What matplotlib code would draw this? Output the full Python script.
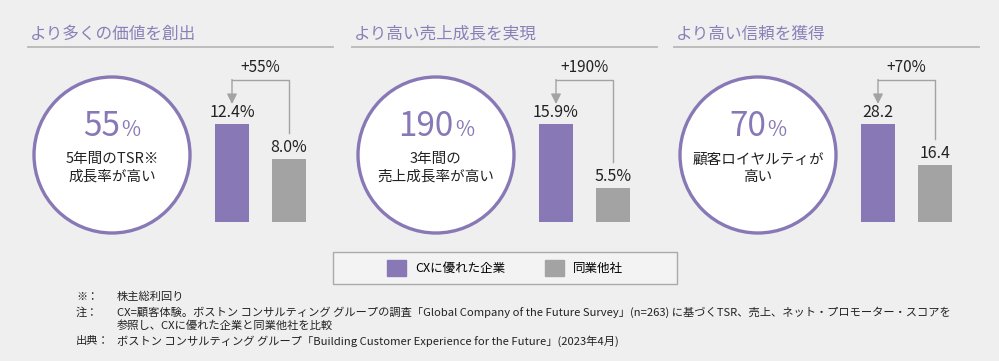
import matplotlib.pyplot as plt
import matplotlib.patches as mpatches
from matplotlib.offsetbox import TextArea, HPacker, AnnotationBbox

plt.rcParams['font.family'] = ['Noto Sans CJK JP', 'DejaVu Sans']

# データ
titles = ['より多くの価値を創出', 'より高い売上成長を実現', 'より高い信頼を獲得']
big_numbers = ['55', '190', '70']
circle_texts = ['5年間のTSR※\n成長率が高い', '3年間の\n売上成長率が高い', '顧客ロイヤルティが\n高い']
cx_values = [12.4, 15.9, 28.2]
peer_values = [8.0, 5.5, 16.4]
value_fmts = ['{:.1f}%', '{:.1f}%', '{:.1f}']
uplift_labels = ['+55%', '+190%', '+70%']
legend_labels = ['CXに優れた企業', '同業他社']
footnotes = [
    ('※：', '株主総利回り'),
    ('注：', 'CX=顧客体験。ボストン コンサルティング グループの調査「Global Company of the Future Survey」(n=263) に基づくTSR、売上、ネット・プロモーター・スコアを'),
    ('', '参照し、CXに優れた企業と同業他社を比較'),
    ('出典：', 'ボストン コンサルティング グループ「Building Customer Experience for the Future」(2023年4月)'),
]

PURPLE = '#8878b6'
GRAY = '#a3a3a3'
TITLE_C = '#8a80b8'
BG = '#efefef'
W, H = 999, 361

fig = plt.figure(figsize=(W / 100, H / 100), dpi=100, facecolor=BG)
ov = fig.add_axes([0, 0, 1, 1])
ov.set_xlim(0, W)
ov.set_ylim(H, 0)
ov.axis('off')

offsets = [0, 324, 646]
for i, off in enumerate(offsets):
    # タイトルと下線
    ov.text(30 + off, 34, titles[i], fontsize=12, color=TITLE_C, va='center', ha='left')
    ov.plot([28 + off, 333 + off], [47, 47], color='#b8b8b8', lw=1.3)

    # 円
    ccx, ccy = 112 + off, 155
    ov.add_patch(mpatches.Circle((ccx, ccy), 78, facecolor='white', edgecolor=PURPLE, lw=2.4))
    box = HPacker(children=[
        TextArea(big_numbers[i], textprops=dict(fontsize=24, color=PURPLE)),
        TextArea('%', textprops=dict(fontsize=15, color=PURPLE)),
    ], align='baseline', pad=0, sep=1)
    ov.add_artist(AnnotationBbox(box, (ccx, 144), xycoords='data', frameon=False,
                                 box_alignment=(0.5, 0)))
    ov.text(ccx, 168, circle_texts[i], fontsize=10.5, color='#222222', ha='center', va='center',
            linespacing=1.3)

    # 棒グラフ
    pc = 232 + off
    ax = fig.add_axes([(pc - 28.5) / W, (H - 222) / H, 114 / W, 98 / H])
    vmax = cx_values[i]
    ax.set_xlim(-0.5, 1.5)
    ax.set_ylim(0, vmax)
    ax.axis('off')
    bars = ax.bar([0, 1], [cx_values[i], peer_values[i]], width=0.6, color=[PURPLE, GRAY])
    ax.bar_label(bars, labels=[value_fmts[i].format(v) for v in (cx_values[i], peer_values[i])],
                 padding=2, fontsize=11.5, color='#222222')
    k = vmax / 98
    top = vmax + 44 * k
    ax.plot([1, 1, 0], [peer_values[i] + 26 * k, top, top], color=GRAY, lw=1, clip_on=False)
    ax.annotate('', xy=(0, vmax + 20 * k), xytext=(0, top + 0.5 * k),
                arrowprops=dict(arrowstyle='-|>,head_width=0.3,head_length=0.6', color=GRAY,
                                lw=1, shrinkA=0, shrinkB=0), annotation_clip=False)
    ax.text(0.5, top + 4 * k, uplift_labels[i], ha='center', va='bottom', fontsize=11,
            color='#222222', clip_on=False)

# 凡例
ov.add_patch(mpatches.Rectangle((333, 252), 344, 32, facecolor='#f3f3f3', edgecolor='#aaaaaa', lw=1))
fig.legend(handles=[mpatches.Patch(color=PURPLE), mpatches.Patch(color=GRAY)], labels=legend_labels,
           loc='center', bbox_to_anchor=(505 / W, 1 - 268 / H), ncol=2, frameon=False,
           fontsize=9, handlelength=1.5, handleheight=1.5, handletextpad=0.7, columnspacing=3.2)

# 注記
ys = [297, 312, 326, 341]
for (head, body), y in zip(footnotes, ys):
    ov.text(76, y, head, fontsize=8.1, color='#222222', va='center', ha='left')
    ov.text(117, y, body, fontsize=8.1, color='#222222', va='center', ha='left')

fig.savefig('out.png', dpi=100, facecolor=BG)
